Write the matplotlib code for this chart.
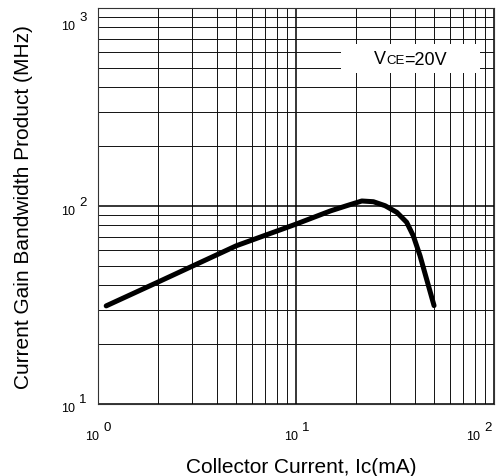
import matplotlib
matplotlib.use('Agg')
import matplotlib.pyplot as plt
from matplotlib.patches import Rectangle

plt.rcParams['font.family'] = ['Liberation Sans', 'DejaVu Sans']

# collector current (mA) vs fT (MHz)
ic_ma = [1.1, 2.0, 5.0, 10.0, 15.0, 18.0, 21.5, 24.6, 28.2, 32.3, 36.2, 39.1, 42.3, 49.8]
ft_mhz = [31.3, 41.2, 63.0, 81.0, 94.6, 100.3, 106.0, 105.1, 100.3, 92.9, 82.8, 70.8, 56.1, 31.4]

x_ticks = [1, 10, 100]
x_exps = ['0', '1', '2']
y_ticks = [10, 100, 1000]
y_exps = ['1', '2', '3']

fig = plt.figure(figsize=(4.96, 4.77), dpi=100)
ax = fig.add_axes([98 / 496, 72 / 477, 396 / 496, 396 / 477])
ax.set_xscale('log')
ax.set_yscale('log')
ax.set_xlim(1, 100)
ax.set_ylim(10, 1000)

# grid
ax.grid(which='major', color='black', lw=1.1)
ax.grid(which='minor', color='#111111', lw=0.7)
ax.set_axisbelow(True)
for sp in ax.spines.values():
    sp.set_linewidth(0.8)
    sp.set_color('#333333')

ax.plot(ic_ma, ft_mhz, color='black', lw=3.6, solid_capstyle='round',
        solid_joinstyle='round', zorder=4)

# tick labels drawn as "10" + raised exponent
ax.set_xticks(x_ticks, [])
ax.set_yticks(y_ticks, [])
ax.tick_params(which='both', length=0)


def power_label(xy, coords, dx, dy, exp):
    base = ax.annotate('10', xy=xy, xycoords=coords, xytext=(dx, dy),
                       textcoords='offset pixels', ha='right', va='center',
                       fontsize=9, annotation_clip=False)
    ax.annotate(exp, xy=(1, 1), xycoords=base, xytext=(4, 0),
                textcoords='offset pixels', ha='left', va='baseline',
                fontsize=9.5, annotation_clip=False)


x_dx = [1, 2, -14]
for t, e, dx in zip(x_ticks, x_exps, x_dx):
    power_label((t, 0), ('data', 'axes fraction'), dx, -32, e)

y_dy = [-4, -5, -18]
for t, e, dy in zip(y_ticks, y_exps, y_dy):
    power_label((0, t), ('axes fraction', 'data'), -23, dy, e)

ax.set_xlabel('Collector Current, Ic(mA)', fontsize=15, va='center')
ax.xaxis.set_label_coords(0.513, -0.157)
ax.set_ylabel('Current Gain Bandwidth Product (MHz)', fontsize=15, va='center')
ax.yaxis.set_label_coords(-0.187, 0.5)

# condition box
ax.add_patch(Rectangle((0.6136, 0.836), 0.351, 0.073, transform=ax.transAxes,
                       facecolor='white', edgecolor='none', zorder=3))
t1 = ax.text(0.697, 0.862, 'V', transform=ax.transAxes, fontsize=13, zorder=5)
t2 = ax.annotate('CE', xy=(1, 0.19), xycoords=t1, fontsize=9.5, va='baseline', zorder=5)
ax.annotate('=20V', xy=(1, 0.19), xycoords=t2, fontsize=13, va='baseline', zorder=5)

fig.savefig('out.png', dpi=100)
